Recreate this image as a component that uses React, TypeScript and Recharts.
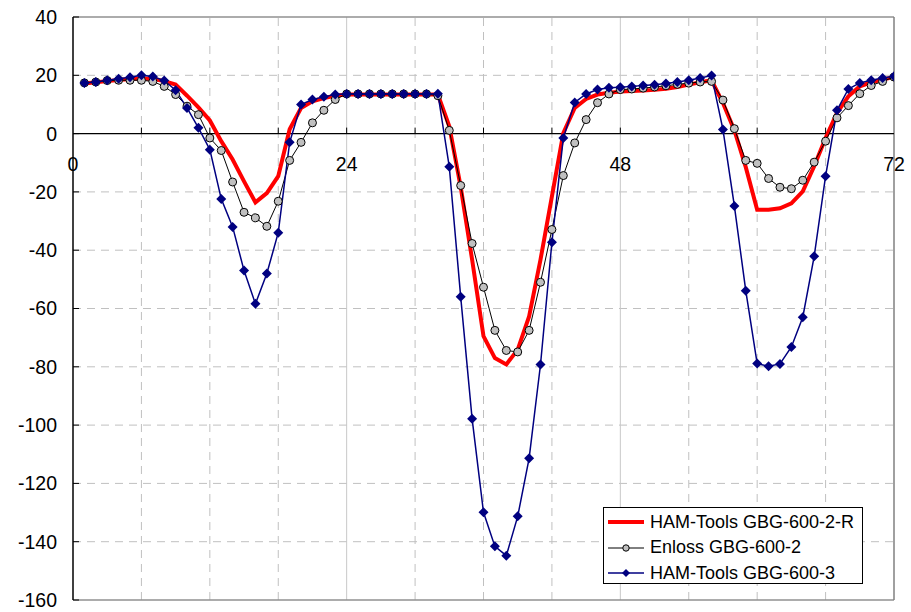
import React from 'react';
import {
  LineChart,
  Line,
  XAxis,
  YAxis,
  ReferenceLine,
  ReferenceDot,
} from 'recharts';

const hours = [
  1, 2, 3, 4, 5, 6, 7, 8, 9, 10, 11, 12, 13, 14, 15, 16, 17, 18, 19, 20, 21, 22, 23, 24,
  25, 26, 27, 28, 29, 30, 31, 32, 33, 34, 35, 36, 37, 38, 39, 40, 41, 42, 43, 44, 45, 46, 47, 48,
  49, 50, 51, 52, 53, 54, 55, 56, 57, 58, 59, 60, 61, 62, 63, 64, 65, 66, 67, 68, 69, 70, 71, 72,
];

// HAM-Tools GBG-600-2-R (thick red, no markers)
const hamR = [
  17.2, 17.6, 18.0, 18.4, 18.7, 18.9, 18.8, 18.0, 16.8, 13.0, 9.0, 4.5,
  -2.6, -8.9, -16.4, -23.6, -20.4, -14.6, 1.5, 8.8, 11.1, 12.2, 13.0, 13.4,
  13.4, 13.4, 13.4, 13.4, 13.4, 13.4, 13.4, 13.4, 2.5, -18.3, -43.2, -69.5,
  -77.0, -79.2, -74.1, -62.7, -43.2, -21.5, 0.2, 8.8, 11.9, 13.4, 14.0, 14.4,
  14.6, 14.8, 15.0, 15.4, 16.0, 16.8, 17.6, 18.3, 10.5, 1.2, -11.5, -26.1,
  -26.1, -25.6, -23.9, -19.8, -11.2, -1.5, 7.1, 12.8, 16.2, 17.6, 18.5, 19.4,
];

// Enloss GBG-600-2 (black line, grey circles)
const enloss = [
  17.4, 17.7, 18.2, 18.3, 18.3, 18.3, 17.9, 16.2, 13.4, 9.4, 6.5, -1.5,
  -5.8, -16.6, -27.0, -28.9, -31.8, -23.2, -9.2, -3.0, 3.7, 8.0, 11.7, 13.6,
  13.6, 13.6, 13.6, 13.6, 13.6, 13.6, 13.6, 13.0, 1.1, -17.8, -37.7, -52.7,
  -67.5, -74.4, -74.9, -67.5, -51.0, -32.9, -14.4, -3.2, 4.8, 10.6, 13.6, 15.1,
  15.3, 15.6, 16.0, 16.4, 16.9, 17.3, 17.7, 17.9, 11.5, 1.7, -9.2, -10.2,
  -15.4, -18.4, -18.9, -16.0, -9.8, -2.6, 5.4, 9.6, 13.7, 16.5, 17.9, 19.4,
];

// HAM-Tools GBG-600-3 (navy line, diamonds)
const ham3 = [
  17.4, 17.7, 18.3, 18.8, 19.3, 20.0, 19.6, 18.2, 14.9, 8.8, 2.0, -5.5,
  -22.4, -32.0, -47.0, -58.4, -48.0, -34.0, -3.0, 10.0, 11.7, 12.6, 13.4, 13.6,
  13.6, 13.6, 13.6, 13.6, 13.6, 13.6, 13.6, 13.7, -11.4, -56.0, -97.8, -129.9,
  -141.6, -144.8, -131.3, -111.4, -79.2, -37.3, -1.5, 10.7, 13.6, 15.1, 15.7, 15.9,
  16.2, 16.5, 16.8, 17.2, 17.7, 18.3, 19.1, 19.9, 1.4, -24.8, -53.9, -78.9,
  -79.8, -79.0, -73.2, -63.0, -42.1, -14.6, 8.0, 15.3, 17.4, 18.3, 19.1, 19.7,
];

const yTicks = [40, 20, 0, -20, -40, -60, -80, -100, -120, -140, -160];
const xLabels = [0, 24, 48, 72];
const xMinorTicks = [6, 12, 18, 24, 30, 36, 42, 48, 54, 60, 66];
const xDashed = [6, 12, 18, 30, 36, 42, 54, 60, 66];
const xSolid = [24, 48];
const yDashed = [20, -20, -40, -60, -80, -100, -120, -140];

const data = hours.map((h, i) => ({
  h,
  hamR: hamR[i],
  enloss: enloss[i],
  ham3: ham3[i],
}));

const FONT = '"Liberation Sans", Arial, sans-serif';

const Diamond = (props: any) => {
  const { cx, cy } = props;
  if (cx == null || cy == null) return null;
  const s = 5;
  return (
    <polygon
      points={`${cx},${cy - s} ${cx + s},${cy} ${cx},${cy + s} ${cx - s},${cy}`}
      fill="#000080"
      stroke="none"
    />
  );
};

const XTickShape = (props: any) => {
  const { cx, cy } = props;
  return <line x1={cx} y1={cy} x2={cx} y2={cy - 6} stroke="#000" strokeWidth={1} />;
};

const YTickShape = (props: any) => {
  const { cx, cy } = props;
  return <line x1={cx} y1={cy} x2={cx + 6} y2={cy} stroke="#000" strokeWidth={1} />;
};

const XLabelShape = (props: any) => {
  const { cx, cy, label } = props;
  return (
    <text x={cx} y={cy + 37} textAnchor="middle" fontSize={19.5} fontFamily={FONT} fill="#000">
      {label}
    </text>
  );
};

const legendItems = [
  { name: 'HAM-Tools GBG-600-2-R', kind: 'red' },
  { name: 'Enloss GBG-600-2', kind: 'circle' },
  { name: 'HAM-Tools GBG-600-3', kind: 'diamond' },
];

const LegendBox = () => (
  <div
    style={{
      position: 'absolute',
      left: 603,
      top: 507,
      width: 258,
      height: 75,
      border: '1px solid #000',
      background: '#fff',
      fontFamily: FONT,
      fontSize: 18,
      color: '#000',
    }}
  >
    {legendItems.map((it, i) => (
      <div
        key={it.name}
        style={{ position: 'absolute', left: 3, top: 2 + i * 25.5, height: 24, display: 'flex', alignItems: 'center' }}
      >
        <svg width={38} height={12} style={{ marginRight: 5 }}>
          {it.kind === 'red' && <line x1={1} y1={6} x2={37} y2={6} stroke="#ff0000" strokeWidth={4} />}
          {it.kind === 'circle' && (
            <g>
              <line x1={1} y1={6} x2={37} y2={6} stroke="#000" strokeWidth={1} />
              <circle cx={19} cy={6} r={3.2} fill="#c0c0c0" stroke="#000" strokeWidth={1} />
            </g>
          )}
          {it.kind === 'diamond' && (
            <g>
              <line x1={1} y1={6} x2={37} y2={6} stroke="#000080" strokeWidth={1.5} />
              <polygon points="19,2 23,6 19,10 15,6" fill="#000080" />
            </g>
          )}
        </svg>
        <span style={{ whiteSpace: 'nowrap' }}>{it.name}</span>
      </div>
    ))}
  </div>
);

export default function App() {
  return (
    <div style={{ position: 'absolute', left: 0, top: 0, width: 911, height: 612, background: '#fff' }}>
      <LineChart
        width={911}
        height={612}
        data={data}
        margin={{ top: 17, right: 17, bottom: 12, left: 13 }}
      >
        <XAxis type="number" dataKey="h" domain={[0, 72]} hide allowDataOverflow />
        <YAxis
          type="number"
          domain={[-160, 40]}
          ticks={yTicks}
          interval={0}
          width={60}
          tickLine={false}
          tickSize={0}
          tickMargin={16}
          axisLine={{ stroke: '#000', strokeWidth: 1.5 }}
          tick={{ fill: '#000', fontSize: 19.5, fontFamily: FONT }}
          allowDataOverflow
        />

        {/* grid */}
        {yDashed.map((v) => (
          <ReferenceLine key={`gy${v}`} y={v} stroke="#c0c0c0" strokeDasharray="8 6" />
        ))}
        {xDashed.map((v) => (
          <ReferenceLine key={`gx${v}`} x={v} stroke="#c0c0c0" strokeDasharray="8 6" />
        ))}
        {xSolid.map((v) => (
          <ReferenceLine key={`gs${v}`} x={v} stroke="#c8c8c8" />
        ))}

        {/* plot border */}
        <ReferenceLine y={40} stroke="#909090" strokeWidth={1.5} />
        <ReferenceLine y={-160} stroke="#909090" strokeWidth={1.5} />
        <ReferenceLine x={72} stroke="#808080" strokeWidth={1.5} />

        {/* x axis on zero */}
        <ReferenceLine y={0} stroke="#000" strokeWidth={1.2} />
        {xMinorTicks.map((t) => (
          <ReferenceDot key={`xt${t}`} x={t} y={0} r={0} shape={<XTickShape />} />
        ))}
        {yTicks.map((t) => (
          <ReferenceDot key={`yt${t}`} x={0} y={t} r={0} shape={<YTickShape />} ifOverflow="visible" />
        ))}
        {xLabels.map((t) => (
          <ReferenceDot key={`xl${t}`} x={t} y={0} r={0} shape={<XLabelShape label={String(t)} />} ifOverflow="visible" />
        ))}

        <Line
          type="linear"
          dataKey="hamR"
          name="HAM-Tools GBG-600-2-R"
          stroke="#ff0000"
          strokeWidth={4}
          dot={false}
          isAnimationActive={false}
        />
        <Line
          type="linear"
          dataKey="enloss"
          name="Enloss GBG-600-2"
          stroke="#000"
          strokeWidth={1}
          dot={{ r: 4, fill: '#c0c0c0', stroke: '#000', strokeWidth: 1 }}
          isAnimationActive={false}
        />
        <Line
          type="linear"
          dataKey="ham3"
          name="HAM-Tools GBG-600-3"
          stroke="#000080"
          strokeWidth={1.5}
          dot={<Diamond />}
          isAnimationActive={false}
        />
      </LineChart>
      <LegendBox />
    </div>
  );
}
